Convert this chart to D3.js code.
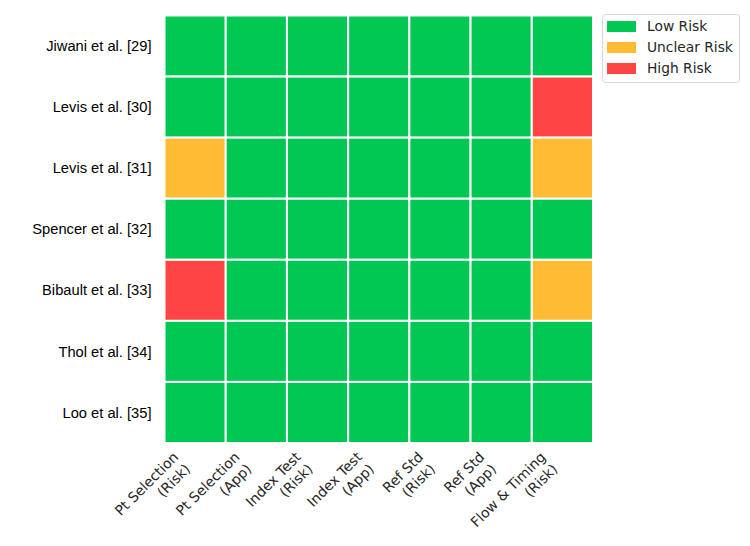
<!DOCTYPE html>
<html>
<head>
<meta charset="utf-8">
<script src="https://cdn.jsdelivr.net/npm/d3@7"></script>
<style>
  body { margin: 0; background: #fff; }
  svg { display: block; }
</style>
</head>
<body>
<div id="chart"></div>
<script>
// studies (rows) and QUADAS-2 domains (columns)
const studies = ["Jiwani et al. [29]", "Levis et al. [30]", "Levis et al. [31]", "Spencer et al. [32]",
                 "Bibault et al. [33]", "Thol et al. [34]", "Loo et al. [35]"];
const domains = ["Pt Selection\n(Risk)", "Pt Selection\n(App)", "Index Test\n(Risk)", "Index Test\n(App)",
                 "Ref Std\n(Risk)", "Ref Std\n(App)", "Flow & Timing\n(Risk)"];
// 0 = low, 1 = unclear, 2 = high
const ratings = [
  [0, 0, 0, 0, 0, 0, 0],
  [0, 0, 0, 0, 0, 0, 2],
  [1, 0, 0, 0, 0, 0, 1],
  [0, 0, 0, 0, 0, 0, 0],
  [2, 0, 0, 0, 0, 0, 1],
  [0, 0, 0, 0, 0, 0, 0],
  [0, 0, 0, 0, 0, 0, 0]
];
const levels = ["Low Risk", "Unclear Risk", "High Risk"];
const levelColors = ["#00c853", "#ffbb33", "#ff4444"];

const W = 750, H = 546;
const gLeft = 164.5, gTop = 15.5, gRight = 593, gBottom = 443;

const svg = d3.select("#chart").append("svg")
  .attr("width", W).attr("height", H);

const x = d3.scaleBand().domain(d3.range(domains.length)).range([gLeft, gRight]).padding(0);
const y = d3.scaleBand().domain(d3.range(studies.length)).range([gTop, gBottom]).padding(0);
const color = d3.scaleOrdinal().domain([0, 1, 2]).range(levelColors);

let cells = [];
ratings.forEach(function(row, i){
  row.forEach(function(v, j){ cells.push({r: i, c: j, v: v}); });
});

svg.append("g").selectAll("rect")
  .data(cells).enter()
  .append("rect")
  .attr("x", d => x(d.c))
  .attr("y", d => y(d.r))
  .attr("width", x.bandwidth())
  .attr("height", y.bandwidth())
  .attr("fill", d => color(d.v))
  .attr("stroke", "#fff")
  .attr("stroke-width", 2);

// y labels
svg.append("g").selectAll("text")
  .data(studies).enter()
  .append("text")
  .attr("x", gLeft - 13)
  .attr("y", (d, i) => y(i) + y.bandwidth() / 2)
  .attr("dy", "0.35em")
  .attr("text-anchor", "end")
  .style("font-family", "Liberation Sans, Arial, sans-serif")
  .style("font-size", "14.7px")
  .attr("fill", "#000")
  .text(d => d);

// x labels, rotated 45 deg, lines right-aligned
const fs = 14, lh = fs * 1.2;
const labTop = gBottom + 7;
domains.forEach(function(d, j){
  let lines = d.split("\n");
  let h = lines.length * lh;
  let cx = x(j) + x.bandwidth() / 2;
  // top-right corner of the unrotated block, so that rotated bbox right edge sits at cx
  let ax = cx - h / Math.SQRT2, ay = labTop;
  let g = svg.append("g").attr("transform", "translate(" + ax + "," + ay + ") rotate(-45)");
  lines.forEach(function(line, k){
    g.append("text")
      .attr("x", 0)
      .attr("y", k * lh + fs * 0.8)
      .attr("text-anchor", "end")
      .style("font-family", "DejaVu Sans, sans-serif")
      .style("font-size", fs + "px")
      .attr("fill", "#262626")
      .text(line);
  });
});

// legend
const leg = svg.append("g");
leg.append("rect")
  .attr("x", 602.5).attr("y", 14.5).attr("width", 137).attr("height", 68)
  .attr("rx", 3).attr("fill", "#fff").attr("stroke", "#d8d8d8");
levels.forEach(function(l, i){
  let yy = 21 + i * 21;
  leg.append("rect").attr("x", 607).attr("y", yy).attr("width", 29).attr("height", 11)
    .attr("fill", levelColors[i]);
  leg.append("text").attr("x", 647).attr("y", yy + 5.5).attr("dy", "0.35em")
    .style("font-family", "DejaVu Sans, sans-serif").style("font-size", "13.8px")
    .attr("fill", "#262626").text(l);
});
</script>
</body>
</html>
